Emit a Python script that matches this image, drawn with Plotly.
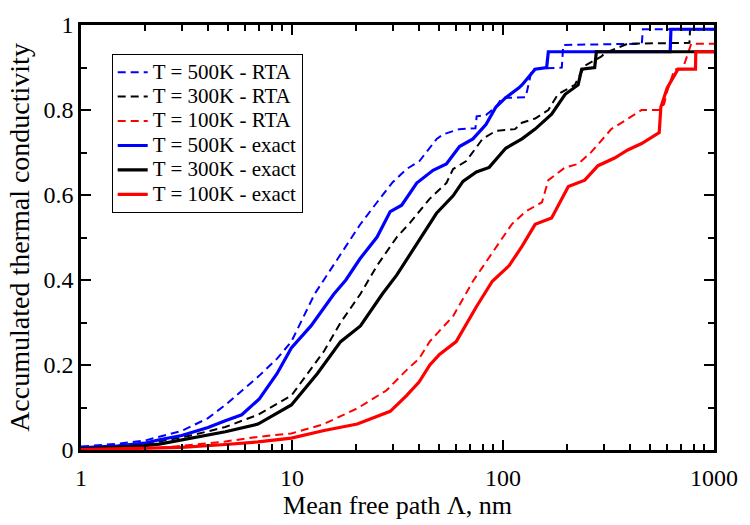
import plotly.graph_objects as go

# 500K RTA (blue dashed)
x_500_rta = [1, 1.14, 1.5, 2, 2.35, 3, 3.37, 4, 4.83, 6, 7, 8.5, 9.93, 12.8, 15, 18, 21, 25.3, 30, 34.9,
             40.2, 48.5, 52.2, 62, 74, 75, 83, 92.6, 99, 114, 128, 132, 137, 190, 193, 455, 460, 1000]
y_500_rta = [0.008, 0.01, 0.015, 0.022, 0.031, 0.045, 0.057, 0.075, 0.106, 0.145, 0.175, 0.215, 0.255, 0.367,
             0.42, 0.48, 0.53, 0.583, 0.63, 0.661, 0.68, 0.732, 0.743, 0.755, 0.757, 0.785, 0.788, 0.807,
             0.829, 0.829, 0.83, 0.859, 0.896, 0.90, 0.953, 0.956, 0.99, 0.99]

# 300K RTA (black dashed)
x_300_rta = [1, 1.5, 2, 2.35, 3.37, 4.83, 6.9, 9.93, 14.2, 17, 21.1, 25.3, 31.4, 36.3, 44.9, 53.9, 58, 67,
             80, 92.6, 114, 123, 142, 164, 182, 219, 244, 293, 304, 390, 765, 770, 1000]
y_300_rta = [0.004, 0.009, 0.014, 0.02, 0.035, 0.054, 0.083, 0.128, 0.233, 0.30, 0.367, 0.434, 0.501, 0.535,
             0.591, 0.628, 0.661, 0.68, 0.732, 0.751, 0.755, 0.77, 0.78, 0.80, 0.837, 0.859, 0.904, 0.926,
             0.934, 0.956, 0.958, 0.99, 0.99]

# 100K RTA (red dashed)
x_100_rta = [1, 2.35, 4.83, 6.9, 9.93, 14, 20.4, 28, 34.9, 40, 44.9, 58, 72, 89, 110, 128, 153, 164, 197,
             227, 263, 326, 405, 454, 550, 580, 600, 650, 710, 780, 1000]
y_100_rta = [0.001, 0.005, 0.02, 0.031, 0.039, 0.06, 0.098, 0.14, 0.188, 0.215, 0.255, 0.315, 0.397, 0.464,
             0.531, 0.561, 0.583, 0.635, 0.665, 0.673, 0.702, 0.755, 0.785, 0.80, 0.80, 0.814, 0.844, 0.896,
             0.896, 0.956, 0.956]

# 500K exact (blue solid)
x_500_ex = [1, 1.5, 2, 2.35, 3, 3.37, 4, 4.83, 5.78, 7, 8.5, 9.93, 12.3, 15.8, 18, 21, 25.3, 29.2, 33.1, 39,
            46.6, 53.9, 62.2, 72, 83, 92.6, 103, 119, 123, 142, 161, 164, 620, 625, 1000]
y_500_ex = [0.005, 0.01, 0.016, 0.024, 0.034, 0.042, 0.053, 0.069, 0.083, 0.12, 0.18, 0.24, 0.292, 0.367,
            0.40, 0.45, 0.501, 0.561, 0.576, 0.628, 0.658, 0.673, 0.714, 0.732, 0.766, 0.807, 0.829, 0.852,
            0.859, 0.896, 0.90, 0.937, 0.937, 0.99, 0.99]

# 300K exact (black solid)
x_300_ex = [1, 1.5, 2, 2.35, 3.37, 4.83, 6.9, 9.93, 13.2, 17, 21.1, 26.8, 31.4, 39, 48.4, 58, 64.6, 74.8,
            86, 103, 123, 142, 170, 197, 227, 236, 272, 277, 1000]
y_300_ex = [0.003, 0.006, 0.01, 0.014, 0.028, 0.043, 0.061, 0.106, 0.18, 0.255, 0.292, 0.367, 0.412, 0.486,
            0.557, 0.598, 0.632, 0.654, 0.665, 0.71, 0.732, 0.755, 0.79, 0.837, 0.859, 0.896, 0.90, 0.937,
            0.937]

# 100K exact (red solid)
x_100_ex = [1, 3, 4.83, 6.9, 9.93, 14.2, 20.4, 29.2, 34.9, 40, 45, 50, 60, 74.8, 89, 107, 123, 142, 170,
            190, 204, 244, 282, 338, 390, 454, 550, 560, 600, 675, 817, 820, 1000]
y_100_ex = [0.001, 0.006, 0.013, 0.019, 0.028, 0.046, 0.061, 0.091, 0.128, 0.16, 0.2, 0.225, 0.255, 0.337,
            0.397, 0.434, 0.479, 0.531, 0.546, 0.591, 0.62, 0.635, 0.669, 0.687, 0.706, 0.721, 0.747, 0.807,
            0.852, 0.896, 0.896, 0.937, 0.937]

labels = ["T = 500K - RTA", "T = 300K - RTA", "T = 100K - RTA",
          "T = 500K - exact", "T = 300K - exact", "T = 100K - exact"]

x_major_ticks = [1, 10, 100, 1000]
x_major_text = ["1", "10", "100", "1000"]
x_minor_ticks = [m * d for d in (1, 10, 100) for m in range(2, 10)]

series = [
    (x_500_rta, y_500_rta, "#0000ff", "dash"),
    (x_300_rta, y_300_rta, "#000000", "dash"),
    (x_100_rta, y_100_rta, "#ff0000", "dash"),
    (x_500_ex, y_500_ex, "#0000ff", "solid"),
    (x_300_ex, y_300_ex, "#000000", "solid"),
    (x_100_ex, y_100_ex, "#ff0000", "solid"),
]

FONT = "Liberation Serif, Times New Roman, serif"

fig = go.Figure()
for (xs, ys, col, style), name in zip(series, labels):
    if style == "dash":
        line = dict(color=col, width=2, dash="8px,5px")
    else:
        line = dict(color=col, width=3.2)
    fig.add_trace(go.Scatter(
        x=xs, y=ys, mode="lines",
        name='<span style="font-size:21px">' + name + "</span>",
        line=line,
    ))

axis_common = dict(
    showline=True, linecolor="black", linewidth=2.5, mirror="allticks",
    ticks="inside", ticklen=10, tickwidth=2, tickcolor="black",
    showgrid=False, zeroline=False,
    tickfont=dict(family=FONT, size=24, color="black"),
)

fig.update_xaxes(
    type="log", range=[0, 3],
    tickvals=x_major_ticks, ticktext=x_major_text,
    ticklabelstandoff=4,
    minor=dict(ticks="inside", ticklen=6, tickwidth=1.5, tickcolor="black",
               tickvals=x_minor_ticks, showgrid=False),
    title=dict(text="Mean free path Λ, nm", font=dict(family=FONT, size=26, color="black"), standoff=4),
    **axis_common,
)
fig.update_yaxes(
    range=[0, 1], dtick=0.2, tick0=0,
    minor=dict(ticks="inside", ticklen=6, tickwidth=1.5, tickcolor="black", dtick=0.1, showgrid=False),
    title=dict(text="Accumulated thermal conductivity", font=dict(family=FONT, size=28, color="black"), standoff=6),
    **axis_common,
)

fig.update_layout(
    width=750, height=525,
    margin=dict(l=81, r=30, t=17, b=61),
    paper_bgcolor="white", plot_bgcolor="white",
    font=dict(family=FONT, color="black"),
    legend=dict(
        x=0.0485, y=0.932, xanchor="left", yanchor="top",
        bgcolor="white", bordercolor="black", borderwidth=1,
        font=dict(family=FONT, size=16.5, color="black"),
        itemwidth=30, tracegroupgap=0,
    ),
    showlegend=True,
)

fig.write_html("out.html")
